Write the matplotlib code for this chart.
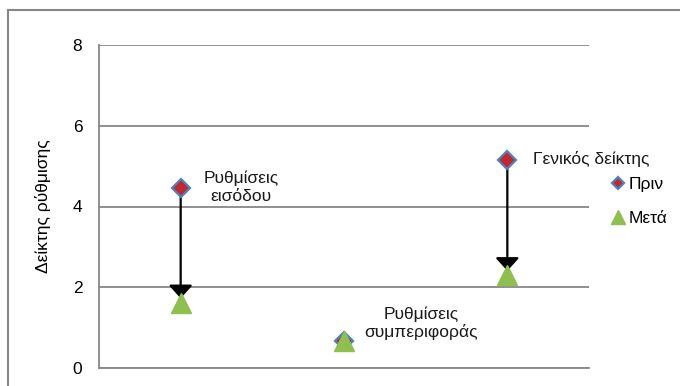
import matplotlib.pyplot as plt
from matplotlib.lines import Line2D

plt.rcParams["font.family"] = ["Liberation Sans Narrow", "Liberation Sans", "DejaVu Sans"]
plt.rcParams["font.size"] = 12.5

categories = ["Ρυθμίσεις\nεισόδου", "Ρυθμίσεις\nσυμπεριφοράς", "Γενικός δείκτης"]
before = [4.46, 0.68, 5.16]
after = [1.62, 0.68, 2.30]
label_pos = [(1.37, 4.48, "center"), (2.47, 1.11, "center"), (3.16, 5.17, "left")]

GRID = "#878787"
RED = "#C0282E"
BLUE = "#4F81BD"
GREEN = "#8DC04F"

fig = plt.figure(figsize=(6.8, 3.86), dpi=100)
ax = fig.add_axes([99/680, 18/386, 490/680, 323/386])

x = range(1, len(categories) + 1)

# arrows before -> after
for xi, b, a in zip(x, before, after):
    if abs(b - a) > 0.1:
        ax.annotate("", xy=(xi, a), xytext=(xi, b),
                    arrowprops=dict(arrowstyle="-|>,head_length=0.8,head_width=0.72",
                                    mutation_scale=10, color="black", lw=1.6,
                                    shrinkA=0, shrinkB=3), zorder=2)

ax.plot(x, before, "D", ms=9, mfc=RED, mec=BLUE, mew=1.6, ls="none", zorder=3, label="Πριν")
ax.plot(x, after, "^", ms=14, color=GREEN, ls="none", zorder=4, label="Μετά")

for (tx, ty, ha), txt in zip(label_pos, categories):
    ax.text(tx, ty, txt, ha=ha, va="center", fontsize=12.5, color="#1a1a1a")

ax.set_xlim(0.5, 3.5)
ax.set_ylim(0, 8)
ax.set_yticks([0, 2, 4, 6, 8])
ax.set_xticks([])
ax.grid(axis="y", color=GRID, lw=1.3)
ax.set_axisbelow(True)
for s in ["top", "right"]:
    ax.spines[s].set_visible(False)
for s in ["left", "bottom"]:
    ax.spines[s].set_color(GRID)
    ax.spines[s].set_linewidth(1.3)
ax.tick_params(axis="y", length=0, pad=12, labelsize=12.5)
ax.set_ylabel("Δείκτης ρύθμισης", fontsize=12.5)
ax.yaxis.set_label_coords(-0.098, 0.5)

leg = ax.legend(loc="upper left", bbox_to_anchor=(1.035, 0.612), frameon=False,
                handlelength=0.6, handletextpad=0.3, labelspacing=1.05,
                borderaxespad=0, fontsize=12.5, markerscale=0.72)

# outer border of the chart area
fig.add_artist(Line2D([8/680, 8/680], [0, 376/386], color=GRID, lw=1.5))
fig.add_artist(Line2D([8/680, 1], [376/386, 376/386], color=GRID, lw=1.5))

fig.savefig("out.png", dpi=100)
